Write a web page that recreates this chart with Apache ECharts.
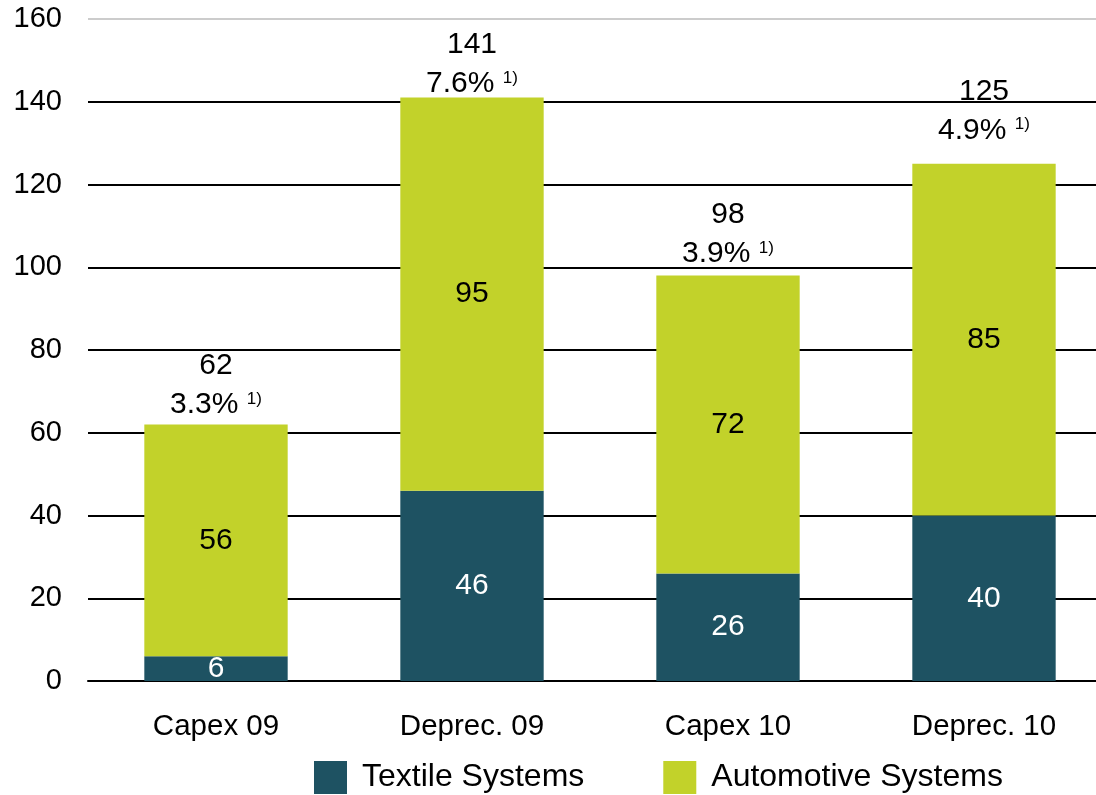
<!DOCTYPE html>
<html><head><meta charset="utf-8">
<script src="https://cdn.jsdelivr.net/npm/echarts@6/dist/echarts.min.js"></script>
<style>html,body{margin:0;padding:0;background:#fff}#c{width:1096px;height:795px}</style>
</head><body><div id="c"></div>
<script>
const categories = ['Capex 09', 'Deprec. 09', 'Capex 10', 'Deprec. 10'];
const textile = [6, 46, 26, 40];
const automotive = [56, 95, 72, 85];
const totals = [62, 141, 98, 125];
const shares = ['3.3%', '7.6%', '3.9%', '4.9%'];
const yTicks = [0, 20, 40, 60, 80, 100, 120, 140, 160];

// styling only: extra vertical lift (px) of each total label above its bar
const totalLabelLift = [0, -6, 2, 14];

const FONT = '"Liberation Sans", Arial, sans-serif';
const chart = echarts.init(document.getElementById('c'));
chart.setOption({
  animation: false,
  textStyle: { fontFamily: FONT },
  grid: { left: 88, width: 1024, top: 19, height: 662, containLabel: false, outerBoundsMode: 'none' },
  legend: {
    left: 314, top: 761, padding: 0, itemWidth: 33, itemHeight: 33, itemGap: 79,
    icon: 'rect',
    textStyle: { fontFamily: FONT, fontSize: 32, color: '#000', padding: [0, 0, 0, 10] },
    data: ['Textile Systems', 'Automotive Systems']
  },
  xAxis: {
    type: 'category', data: categories,
    axisLine: { lineStyle: { color: '#000', width: 2 } },
    axisTick: { show: false },
    axisLabel: { fontFamily: FONT, fontSize: 29.5, color: '#000', margin: 31 }
  },
  yAxis: {
    type: 'value', min: 0, max: 160, interval: 20,
    axisLine: { show: false }, axisTick: { show: false },
    axisLabel: { fontFamily: FONT, fontSize: 29, color: '#000', margin: 26,
      formatter: v => yTicks.includes(v) ? String(v) : '' },
    splitLine: { lineStyle: { color: ['#000', '#000', '#000', '#000', '#000', '#000', '#000', '#000', '#ccc'], width: 2 } }
  },
  series: [
    {
      name: 'Textile Systems', type: 'bar', stack: 'a', barWidth: '56%',
      data: textile, itemStyle: { color: '#1E5262' },
      label: { show: true, position: 'inside', color: '#fff', fontSize: 30, fontFamily: FONT }
    },
    {
      name: 'Automotive Systems', type: 'bar', stack: 'a', barWidth: '56%',
      data: automotive, itemStyle: { color: '#C2D22A' },
      label: { show: true, position: 'inside', color: '#000', fontSize: 30, fontFamily: FONT }
    },
    {
      name: 'totals', type: 'bar', stack: 'a', barWidth: '56%',
      data: totals.map((t, i) => ({ value: 0, label: { offset: [0, -totalLabelLift[i]] } })),
      itemStyle: { color: 'transparent' },
      silent: true,
      label: {
        show: true, position: 'top', distance: 0,
        formatter: p => '{a|' + totals[p.dataIndex] + '}\n{a|' + shares[p.dataIndex] + ' }{s|1)}',
        rich: {
          a: { fontFamily: FONT, fontSize: 30, color: '#000', lineHeight: 39 },
          s: { fontFamily: FONT, fontSize: 17, color: '#000', lineHeight: 39, padding: [0, 0, 12, 0] }
        }
      }
    }
  ]
});
</script></body></html>
